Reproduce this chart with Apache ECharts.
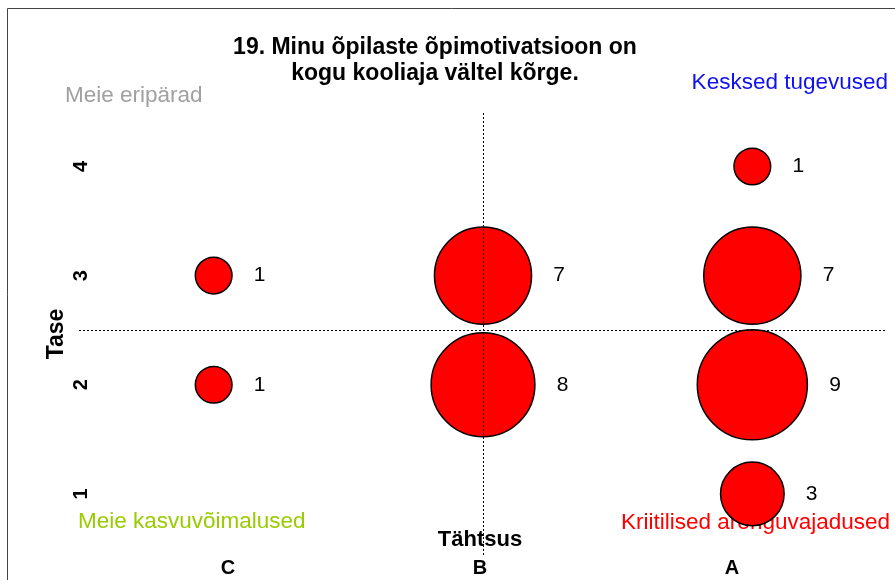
<!DOCTYPE html>
<html>
<head>
<meta charset="utf-8">
<script src="https://cdn.jsdelivr.net/npm/echarts@6/dist/echarts.min.js"></script>
<style>
  html, body { margin: 0; padding: 0; background: #fff; }
  #chart { width: 895px; height: 580px; }
</style>
</head>
<body>
<div id="chart"></div>
<script>
// importance categories (x) and level ticks (y)
const categories = ['C', 'B', 'A'];
const levels = [1, 2, 3, 4];
// one entry per bubble
const pointCat = ['C', 'C', 'B', 'B', 'A', 'A', 'A', 'A'];
const pointLevel = [3, 2, 3, 2, 4, 3, 2, 1];
const pointCount = [1, 1, 7, 8, 1, 7, 9, 3];

const bubbles = pointCat.map((c, i) => [categories.indexOf(c) + 1, pointLevel[i], pointCount[i]]);

const chart = echarts.init(document.getElementById('chart'));
const font = 'Liberation Sans, Arial, sans-serif';

chart.setOption({
    animation: false,
    title: {
        text: '19. Minu õpilaste õpimotivatsioon on\nkogu kooliaja vältel kõrge.',
        left: 435,
        top: 35,
        padding: 0,
        textAlign: 'center',
        textStyle: { fontFamily: font, fontSize: 23, fontWeight: 'bold', color: '#000', lineHeight: 26 }
    },
    grid: [
        { left: 79, top: 113, width: 808, height: 442, outerBoundsMode: 'none' },
        { left: 102, top: 113, width: 756, height: 442, outerBoundsMode: 'none' }
    ],
    xAxis: [
        {
            type: 'value', gridIndex: 0, min: 0.5, max: 3.5,
            axisLine: { show: false }, axisTick: { show: false },
            axisLabel: { show: false }, splitLine: { show: false }
        },
        {
            type: 'category', gridIndex: 1, data: categories,
            name: 'Tähtsus', nameLocation: 'middle', nameGap: -26, nameMoveOverlap: false,
            nameTextStyle: { fontFamily: font, fontSize: 22, fontWeight: 'bold', color: '#000' },
            axisLine: { show: false }, axisTick: { show: false },
            axisLabel: { margin: 3, fontFamily: font, fontSize: 20, fontWeight: 'bold', color: '#000' }
        }
    ],
    yAxis: [
        {
            type: 'value', gridIndex: 0, min: 0.44, max: 4.49,
            name: 'Tase', nameLocation: 'middle', nameRotate: 90, nameGap: 11, nameMoveOverlap: false,
            nameTextStyle: { fontFamily: font, fontSize: 23, fontWeight: 'bold', color: '#000' },
            axisLine: { show: false }, axisTick: { show: false }, splitLine: { show: false },
            axisLabel: {
                customValues: levels, rotate: 90, margin: -12,
                fontFamily: font, fontSize: 20, fontWeight: 'bold', color: '#000'
            }
        },
        { type: 'value', gridIndex: 1, show: false }
    ],
    graphic: [
        { type: 'rect', shape: { x: 7.5, y: 8.5, width: 900, height: 600 }, style: { fill: null, stroke: '#444', lineWidth: 1 }, silent: true },
        { type: 'text', x: 65, y: 96, style: { text: 'Meie eripärad', fill: '#a0a0a0', font: '22.5px ' + font, verticalAlign: 'middle' } },
        { type: 'text', x: 888, y: 83, style: { text: 'Kesksed tugevused', fill: '#1010f0', font: '22.5px ' + font, align: 'right', verticalAlign: 'middle' } },
        { type: 'text', x: 78, y: 522, style: { text: 'Meie kasvuvõimalused', fill: '#99cc00', font: '22.5px ' + font, verticalAlign: 'middle' } },
        { type: 'text', x: 890, y: 523, style: { text: 'Kriitilised arenguvajadused', fill: '#ff0000', font: '22.5px ' + font, align: 'right', verticalAlign: 'middle' } }
    ],
    series: [
        {
            type: 'scatter',
            xAxisIndex: 0, yAxisIndex: 0,
            data: bubbles,
            symbolSize: d => 36.7 * Math.sqrt(d[2]),
            itemStyle: { color: '#ff0000', borderColor: '#000', borderWidth: 1.5, opacity: 1 },
            label: {
                show: true, position: 'right', distance: 21,
                formatter: p => p.value[2],
                fontFamily: font, fontSize: 21, color: '#000'
            },
            markLine: {
                silent: true, symbol: 'none',
                label: { show: false },
                lineStyle: { color: '#000', width: 1, type: [2, 2] },
                data: [{ xAxis: 2 }, { yAxis: 2.5 }]
            },
            z: 3
        }
    ]
});
</script>
</body>
</html>
